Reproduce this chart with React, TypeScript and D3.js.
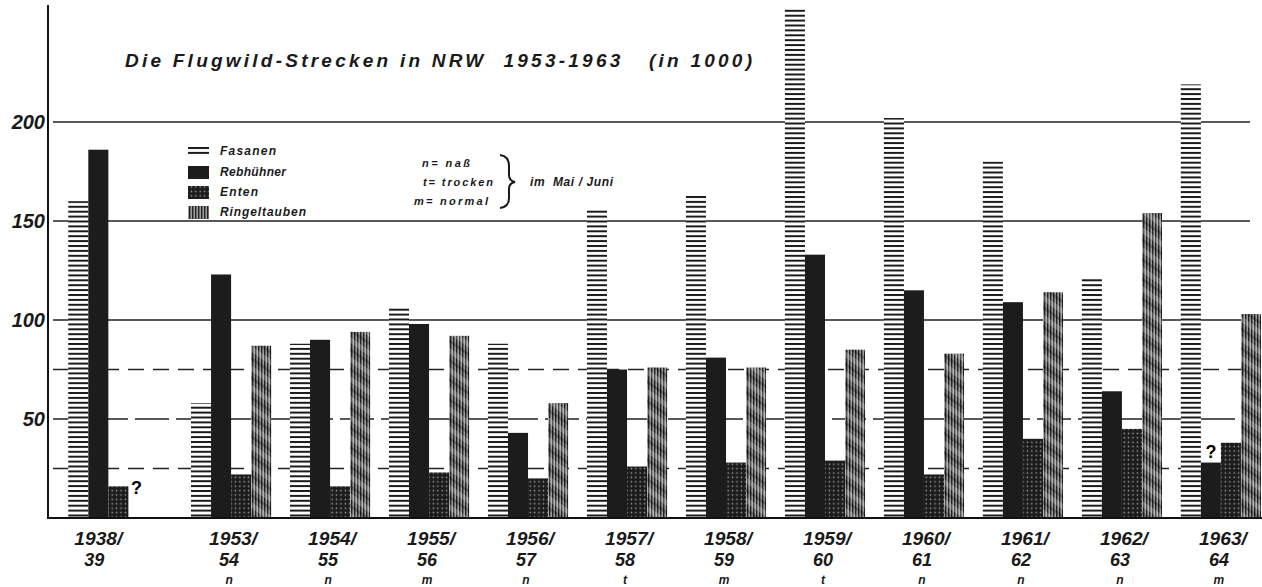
import React, { useEffect, useRef } from "react";
import * as d3 from "d3";

// seasons, split into the two label lines + weather letter (n/t/m)
const seasonTop = ["1938/", "1953/", "1954/", "1955/", "1956/", "1957/", "1958/", "1959/", "1960/", "1961/", "1962/", "1963/"];
const seasonBottom = ["39", "54", "55", "56", "57", "58", "59", "60", "61", "62", "63", "64"];
const weather = ["", "n", "n", "m", "n", "t", "m", "t", "n", "n", "n", "m"];

// values in 1000
const fasanen = [160, 58, 88, 106, 88, 156, 163, 257, 202, 180, 121, 219];
const rebhuehner = [186, 123, 90, 98, 43, 75, 81, 133, 115, 109, 64, 28];
const enten = [16, 22, 16, 23, 20, 26, 28, 29, 22, 40, 45, 38];
const ringeltauben = [null, 87, 94, 92, 58, 76, 76, 85, 83, 114, 154, 103];

const seriesNames = ["Fasanen", "Rebhühner", "Enten", "Ringeltauben"];
const seriesFills = ["url(#pFas)", "#1c1c1c", "url(#pEnt)", "url(#pRing)"];

const solidTicks = [50, 100, 150, 200];
const dashedTicks = [25, 75];
const tickLabels = [50, 100, 150, 200];

const FONT = "'Liberation Sans', Arial, sans-serif";

export default function App() {
    const ref = useRef(null);

    useEffect(() => {
        const root = d3.select(ref.current);
        root.selectAll("*").remove();

        const W = 1262, H = 587;
        const svg = root.append("svg")
            .attr("width", W)
            .attr("height", H)
            .style("position", "absolute")
            .style("left", 0)
            .style("top", 0)
            .style("background", "#fff");

        // patterns for the old hatchings
        const defs = svg.append("defs");
        const pf = defs.append("pattern").attr("id", "pFas")
            .attr("patternUnits", "userSpaceOnUse").attr("width", 8).attr("height", 4.9);
        pf.append("rect").attr("width", 8).attr("height", 4.9).attr("fill", "#fff");
        pf.append("rect").attr("y", 0).attr("width", 8).attr("height", 2).attr("fill", "#1a1a1a");

        const pe = defs.append("pattern").attr("id", "pEnt")
            .attr("patternUnits", "userSpaceOnUse").attr("width", 4.4).attr("height", 4.4);
        pe.append("rect").attr("width", 4.4).attr("height", 4.4).attr("fill", "#1c1c1c");
        pe.append("circle").attr("cx", 2.2).attr("cy", 2.2).attr("r", 0.8).attr("fill", "#9a9a9a");

        const pr = defs.append("pattern").attr("id", "pRing")
            .attr("patternUnits", "userSpaceOnUse").attr("width", 3).attr("height", 3);
        pr.append("rect").attr("width", 3).attr("height", 3).attr("fill", "#9c9c9c");
        pr.append("rect").attr("width", 1.4).attr("height", 3).attr("fill", "#222");

        const pd = defs.append("pattern").attr("id", "pDiag")
            .attr("patternUnits", "userSpaceOnUse").attr("width", 16).attr("height", 16)
            .attr("patternTransform", "rotate(-55)");
        pd.append("rect").attr("width", 5).attr("height", 16).attr("fill", "rgba(255,255,255,0.22)");
        pd.append("rect").attr("x", 9).attr("width", 3).attr("height", 16).attr("fill", "rgba(0,0,0,0.25)");

        // scales
        const y = d3.scaleLinear().domain([0, 200]).range([518, 122]);
        const later = seasonTop.slice(1);
        const x = d3.scaleBand().domain(later).range([191, 1261]).paddingInner(0.19);
        const groupX = (i) => i === 0 ? x(later[0]) - x.step() * 1.24 : x(later[i - 1]);
        const inner = d3.scaleBand().domain(seriesNames).range([0, x.bandwidth()]);

        // gridlines
        const grid = svg.append("g");
        grid.selectAll("line.s").data(solidTicks).enter().append("line")
            .attr("x1", 53).attr("x2", 1250)
            .attr("y1", d => y(d)).attr("y2", d => y(d))
            .attr("stroke", "#222").attr("stroke-width", 1.6)
            .attr("stroke-dasharray", d => d === 50 ? "34,7" : null);
        grid.selectAll("line.d").data(dashedTicks).enter().append("line")
            .attr("x1", 53).attr("x2", 1250)
            .attr("y1", d => y(d)).attr("y2", d => y(d))
            .attr("stroke", "#222").attr("stroke-width", 1.5)
            .attr("stroke-dasharray", "16,9");

        // y labels
        svg.append("g").selectAll("text").data(tickLabels).enter().append("text")
            .attr("x", 45).attr("y", d => y(d) + 7)
            .attr("text-anchor", "end")
            .style("font-family", FONT).style("font-style", "italic").style("font-weight", "bold")
            .style("font-size", "20px").attr("fill", "#1a1a1a")
            .text(d => d);

        // bars
        const series = [fasanen, rebhuehner, enten, ringeltauben];
        const bars = svg.append("g");
        series.forEach((vals, s) => {
            vals.forEach((v, i) => {
                if (v == null) return;
                const bx = groupX(i) + inner(seriesNames[s]);
                bars.append("rect")
                    .attr("x", bx).attr("y", y(v))
                    .attr("width", inner.bandwidth()).attr("height", y(0) - y(v))
                    .attr("fill", seriesFills[s]);
                if (s === 3) {
                    bars.append("rect")
                        .attr("x", bx).attr("y", y(v))
                        .attr("width", inner.bandwidth()).attr("height", y(0) - y(v))
                        .attr("fill", "url(#pDiag)");
                }
            });
        });

        // question marks where the data is uncertain
        svg.append("text")
            .attr("x", groupX(0) + inner("Ringeltauben") + 8).attr("y", y(enten[0]) + 8)
            .attr("text-anchor", "middle")
            .style("font-family", FONT).style("font-weight", "bold").style("font-size", "18px")
            .text("?");
        svg.append("text")
            .attr("x", groupX(11) + inner("Rebhühner") + inner.bandwidth() / 2).attr("y", y(rebhuehner[11]) - 5)
            .attr("text-anchor", "middle")
            .style("font-family", FONT).style("font-weight", "bold").style("font-size", "18px")
            .text("?");

        // axes lines
        svg.append("line").attr("x1", 48).attr("x2", 48).attr("y1", 5).attr("y2", y(0) + 1)
            .attr("stroke", "#111").attr("stroke-width", 2);
        svg.append("line").attr("x1", 47).attr("x2", 1262).attr("y1", y(0)).attr("y2", y(0))
            .attr("stroke", "#111").attr("stroke-width", 2);

        // x labels
        const lab = svg.append("g")
            .style("font-family", FONT).style("font-style", "italic").style("font-weight", "bold")
            .attr("fill", "#1a1a1a").attr("text-anchor", "middle");
        seasonTop.forEach((t, i) => {
            const cx = groupX(i) + x.bandwidth() / 2 + (i === 0 ? -12 : 0);
            lab.append("text").attr("x", cx + 2).attr("y", 545)
                .attr("textLength", 48).attr("lengthAdjust", "spacingAndGlyphs")
                .style("font-size", "18px").text(t);
            lab.append("text").attr("x", cx - 2).attr("y", 566).style("font-size", "18px").text(seasonBottom[i]);
            if (weather[i]) {
                lab.append("text").attr("x", cx - 2).attr("y", 584).style("font-size", "12px").text(weather[i]);
            }
        });

        // title
        svg.append("text")
            .attr("x", 125).attr("y", 67)
            .attr("textLength", 627).attr("lengthAdjust", "spacing")
            .attr("xml:space", "preserve")
            .style("font-family", FONT).style("font-style", "italic").style("font-weight", "bold")
            .style("font-size", "19px").attr("fill", "#1a1a1a")
            .text("Die Flugwild-Strecken in NRW  1953-1963   (in 1000)");

        // legend
        const leg = svg.append("g");
        const ly = [151, 172, 192, 212];
        seriesNames.forEach((n, i) => {
            leg.append("rect").attr("x", 188).attr("y", ly[i] - 6)
                .attr("width", 21).attr("height", i === 0 ? 11 : 13)
                .attr("fill", seriesFills[i]);
            leg.append("text").attr("x", 220).attr("y", ly[i] + 4)
                .attr("textLength", [56, 66, 38, 86][i]).attr("lengthAdjust", "spacing")
                .style("font-family", FONT).style("font-style", "italic").style("font-weight", "bold")
                .style("font-size", "12px").attr("fill", "#1a1a1a")
                .text(n);
        });

        // weather note
        const note = svg.append("g")
            .style("font-family", FONT).style("font-style", "italic").style("font-weight", "bold")
            .style("font-size", "11px").attr("fill", "#1a1a1a");
        note.append("text").attr("x", 422).attr("y", 167)
            .attr("textLength", 48).attr("lengthAdjust", "spacing").text("n= naß");
        note.append("text").attr("x", 423).attr("y", 186)
            .attr("textLength", 70).attr("lengthAdjust", "spacing").text("t= trocken");
        note.append("text").attr("x", 414).attr("y", 205)
            .attr("textLength", 74).attr("lengthAdjust", "spacing").text("m= normal");
        note.append("path")
            .attr("d", "M500,155 Q509,156 509,166 L509,175 Q509,181 515,182 Q509,183 509,189 L509,198 Q509,207 500,208")
            .attr("fill", "none").attr("stroke", "#1a1a1a").attr("stroke-width", 2);
        note.append("text").attr("x", 530).attr("y", 186)
            .attr("textLength", 83).attr("lengthAdjust", "spacing")
            .attr("xml:space", "preserve")
            .style("font-size", "12px").text("im  Mai / Juni");
    }, []);

    return <div ref={ref}></div>;
}
